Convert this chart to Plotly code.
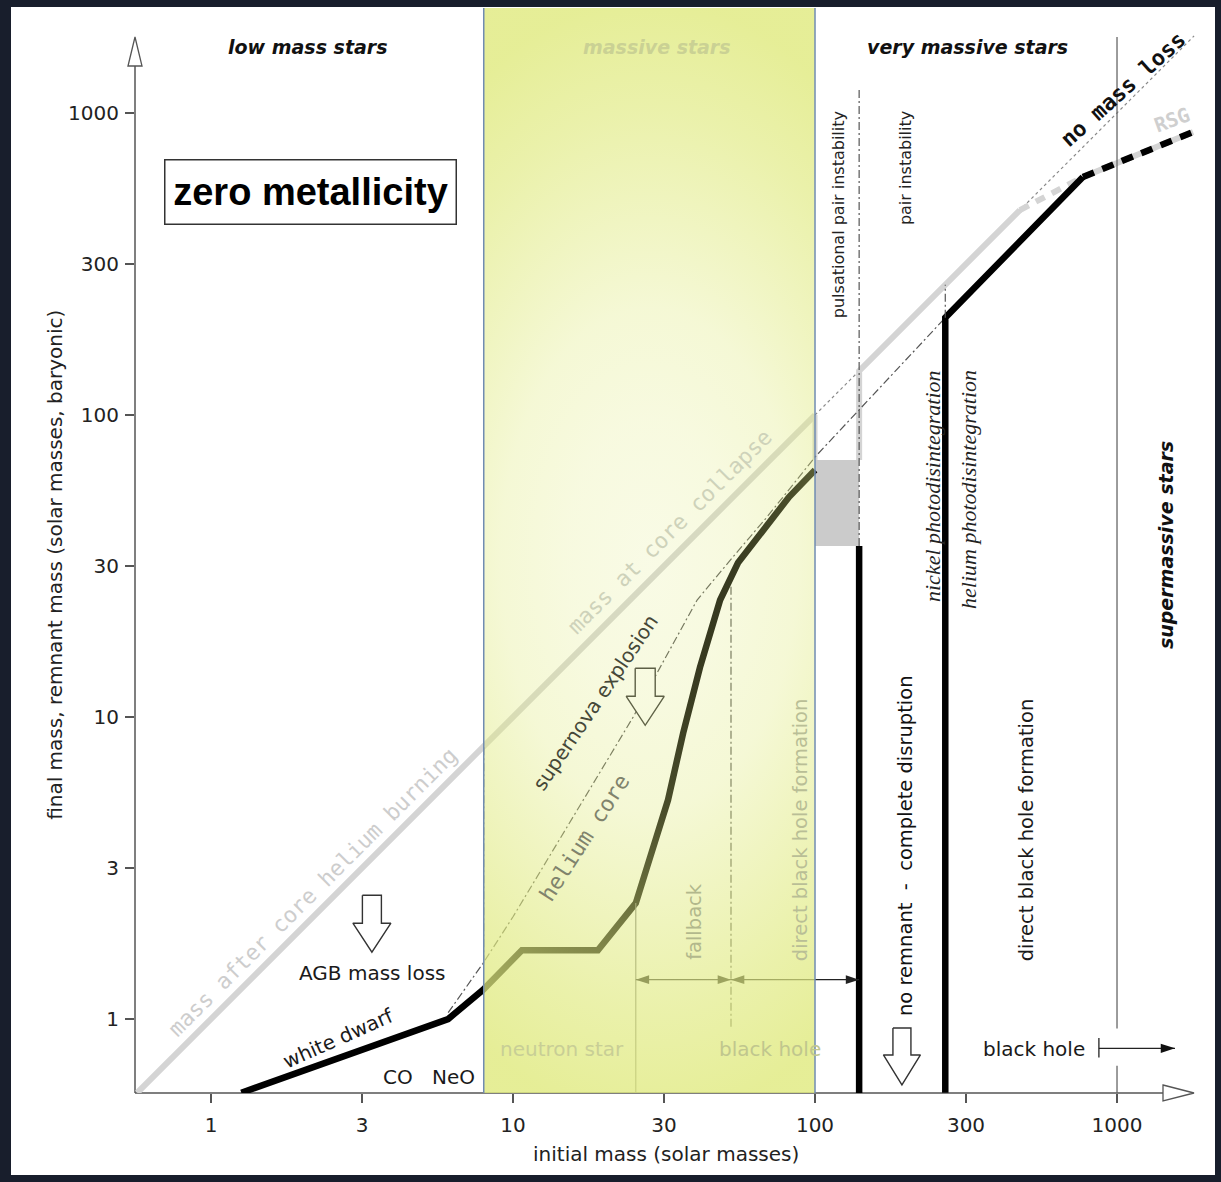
import base64
import numpy as np
import plotly.graph_objects as go

# ---------------- data (all masses in solar masses) ----------------
# remnant (baryonic) mass versus initial mass: white dwarfs, neutron stars, fallback black holes
remnant_init = [1.26, 6.1, 7.96, 10.7, 19.1, 25.5, 27.8, 32.6, 36.6, 41.6, 48.5, 55.6, 82.0, 100.0]
remnant_final = [0.57, 1.0, 1.25, 1.69, 1.69, 2.42, 3.19, 5.31, 8.85, 14.6, 24.4, 32.4, 53.5, 65.7]

# black holes above the pair-instability gap
bh_init = [270, 270, 771]
bh_final = [0.57, 210, 614]
bh_ext_init = [771, 1786]          # uncertain continuation (dashed)
bh_ext_final = [614, 865]

# final stellar mass (no mass loss below the pair-instability regime)
final_low_init = [0.57, 100]
final_low_final = [0.57, 100]
final_ppi_init = [100, 100]        # drop caused by pulsational pair instability
final_ppi_final = [100, 71]
final_pi_init = [140, 140, 477]
final_pi_final = [71, 140, 477]
rsg_init = [477, 771]              # red supergiant branch
rsg_final = [477, 614]
rsg_ext_init = [771, 1786]
rsg_ext_final = [614, 865]

# no mass loss reference (final = initial)
nml_init = [100, 1800]
nml_final = [100, 1800]

# helium core mass
he_init = [6.1, 7.96, 10.0, 25.0, 30.7, 40.7, 53.5, 69.3, 100.0, 270.0]
he_final = [1.05, 1.53, 2.18, 10.0, 14.6, 24.4, 33.9, 45.9, 72.6, 210.0]

# pulsational pair-instability band
ppi_band_init = [100, 140]
ppi_band_final = [36.8, 71.0]

# regime boundaries (initial mass)
m_massive = 8.0
m_fallback = 25.5
m_direct_bh = 52.7
m_vms = 100.0
m_pisn = 140.0
m_pisn_top = 270.0
m_supermassive = 1000.0
fallback_arrow_level = 1.35

# ticks sit at whole and half decades
tick_vals = [1, 10 ** 0.5, 10, 10 ** 1.5, 100, 10 ** 2.5, 1000]
tick_text = ["1", "3", "10", "30", "100", "300", "1000"]

# ---------------- layout geometry ----------------
W, H = 1221, 1182
ML, MR, MT, MB = 135, 21, 8, 89
PW, PH = W - ML - MR, H - MT - MB
XR = [-0.2517, 3.2748]
YR = [-0.245, 3.3477]
PXD = PW / (XR[1] - XR[0])          # pixels per decade
YBOT = 10 ** YR[0]

SANS = "DejaVu Sans"
MONO = "DejaVu Sans Mono"
SERIF = "Liberation Serif"
ARIAL = "Liberation Sans"


def xpp(px):
    return (px - ML) / PW


def ypp(py):
    return (MT + PH - py) / PH


def xp_data(v):
    return (np.log10(v) - XR[0]) / (XR[1] - XR[0])


fig = go.Figure()


def line(x, y, color, width, dash=None):
    fig.add_trace(go.Scatter(x=x, y=y, mode="lines", hoverinfo="skip", showlegend=False,
                             line=dict(color=color, width=width, dash=dash)))


def arrowheads(x, y, angles, color, size=14):
    fig.add_trace(go.Scatter(x=x, y=y, mode="markers", hoverinfo="skip", showlegend=False,
                             marker=dict(symbol="arrow", size=size, angle=angles, color=color,
                                         line=dict(width=0))))


def block_arrow(xc, ytop, hw=9.5, head=19, shaft=28, tip=57):
    pts = [(-hw, 0), (hw, 0), (hw, shaft), (head, shaft), (0, tip), (-head, shaft), (-hw, shaft), (-hw, 0)]
    xs = [xc * 10 ** (dx / PXD) for dx, dy in pts]
    ys = [ytop * 10 ** (-dy / PXD) for dx, dy in pts]
    fig.add_trace(go.Scatter(x=xs, y=ys, mode="lines", fill="toself", fillcolor="white",
                             line=dict(color="#333333", width=1.4), hoverinfo="skip", showlegend=False))


GRAY = "#d4d4d4"
DASHDOT = "8px,3px,2px,3px"

# no-mass-loss reference line
line(nml_init, nml_final, "#8a8a8a", 1.2, "dot")
# pulsational pair-instability remnant band
fig.add_trace(go.Scatter(
    x=[ppi_band_init[0], ppi_band_init[1], ppi_band_init[1], ppi_band_init[0], ppi_band_init[0]],
    y=[ppi_band_final[0], ppi_band_final[0], ppi_band_final[1], ppi_band_final[1], ppi_band_final[0]],
    mode="lines", fill="toself", fillcolor="#cbcbcb", line=dict(width=0),
    hoverinfo="skip", showlegend=False))
# final mass of the star
line(final_low_init, final_low_final, GRAY, 6)
line(final_ppi_init, final_ppi_final, GRAY, 5)
line(final_pi_init, final_pi_final, GRAY, 6)
line(rsg_init, rsg_final, GRAY, 6, "10px,8px")
line(rsg_ext_init, rsg_ext_final, GRAY, 6)
# helium core
line(he_init, he_final, "#555555", 1.2, DASHDOT)
# remnant masses
line(remnant_init, remnant_final, "black", 6.5)
line([m_pisn, m_pisn], [ppi_band_final[0], YBOT], "black", 6.5)
line(bh_init, bh_final, "black", 6.5)
line(bh_ext_init, bh_ext_final, "black", 6.5, "12px,9px")

# regime boundaries
line([m_massive, m_massive], [1.53, 8.0], "#555555", 1.2, DASHDOT)
line([m_direct_bh, m_direct_bh], [27.0, 0.93], "#555555", 1.2, DASHDOT)
line([m_pisn, m_pisn], [ppi_band_final[0], 1192], "#555555", 1.2, DASHDOT)
line([m_pisn_top, m_pisn_top], [210, 270], "#555555", 1.2, DASHDOT)
line([m_fallback, m_fallback], [YBOT, 2.42], "#777777", 1.1)
line([m_supermassive, m_supermassive, None, m_supermassive, m_supermassive],
     [1786, 0.93, None, 0.70, YBOT], "#666666", 1.3)

# fallback / direct black hole ranges
line([m_fallback, m_direct_bh], [fallback_arrow_level] * 2, "#333333", 1.2)
line([m_direct_bh, m_pisn], [fallback_arrow_level] * 2, "#222222", 1.2)
arrowheads([m_fallback, m_direct_bh, m_direct_bh, m_pisn], [fallback_arrow_level] * 4,
           [-90, 90, -90, 90], "#222222")

# black hole beyond the supermassive limit
line([871, 1556], [0.80, 0.80], "#222222", 1.3)
line([871, 871], [0.745, 0.865], "#222222", 1.3)
arrowheads([1556], [0.80], [90], "#111111", 15)

# block arrows
block_arrow(3.41, 2.57)
block_arrow(27.4, 14.5, hw=10)
block_arrow(194, 0.934, hw=9, head=18.5, shaft=27, tip=57)

# ---------------- highlighted "massive stars" panel (radial gradient) ----------------
panel_w = (np.log10(m_vms) - np.log10(m_massive)) * PXD
stops = [(0.0, 0.2), (0.25, 0.25), (0.45, 0.33), (0.62, 0.49), (0.8, 0.66), (1.0, 0.82)]
stop_xml = "".join(
    f'<stop offset="{o}" stop-color="rgb(224,234,128)" stop-opacity="{a}"/>' for o, a in stops)
cx, cy, r = panel_w / 2, 552, 560
svg = (f'<svg xmlns="http://www.w3.org/2000/svg" width="{panel_w:.0f}" height="{PH}" '
       f'viewBox="0 0 {panel_w:.1f} {PH}" preserveAspectRatio="none"><defs>'
       f'<radialGradient id="g" gradientUnits="userSpaceOnUse" cx="{cx:.1f}" cy="{cy}" r="{r}" '
       f'gradientTransform="translate({cx:.1f} {cy}) scale(0.59 1) translate({-cx:.1f} {-cy})">'
       f'{stop_xml}</radialGradient></defs>'
       f'<rect x="0" y="0" width="{panel_w:.1f}" height="{PH}" fill="url(#g)"/></svg>')
src = "data:image/svg+xml;base64," + base64.b64encode(svg.encode()).decode()
fig.add_layout_image(dict(source=src, xref="x", yref="paper",
                          x=np.log10(m_massive), y=1,
                          sizex=np.log10(m_vms) - np.log10(m_massive), sizey=1,
                          xanchor="left", yanchor="top", sizing="stretch", layer="above"))

# ---------------- shapes (frame, axes, panel border) ----------------
shapes = [
    dict(type="rect", xref="paper", yref="paper", x0=xpp(11), x1=xpp(1215), y0=ypp(1175), y1=ypp(7),
         fillcolor="white", line=dict(width=0), layer="below"),
    dict(type="line", xref="paper", yref="paper", x0=0, x1=xpp(1164), y0=0, y1=0,
         line=dict(color="#555555", width=1.5), layer="below"),
    dict(type="line", xref="paper", yref="paper", x0=0, x1=0, y0=0, y1=ypp(66),
         line=dict(color="#555555", width=1.5), layer="below"),
    dict(type="path", xref="paper", yref="paper",
         path=f"M {xpp(1163)},{ypp(1085)} L {xpp(1194)},{ypp(1093)} L {xpp(1163)},{ypp(1101)} Z",
         fillcolor="white", line=dict(color="#555555", width=1.3), layer="above"),
    dict(type="path", xref="paper", yref="paper",
         path=f"M {xpp(128)},{ypp(66)} L {xpp(135)},{ypp(37)} L {xpp(142)},{ypp(66)} Z",
         fillcolor="white", line=dict(color="#555555", width=1.3), layer="above"),
]
for m in (m_massive, m_vms):
    shapes.append(dict(type="line", xref="paper", yref="paper", x0=xp_data(m), x1=xp_data(m),
                       y0=0, y1=1, line=dict(color="rgb(112,140,178)", width=1.5), layer="above"))
fig.update_layout(shapes=shapes)


# ---------------- labels ----------------
def label(text, x, y, size, color="#1a1a1a", angle=0, family=SANS, **kw):
    fig.add_annotation(x=np.log10(x), y=np.log10(y), xref="x", yref="y", text=text,
                       showarrow=False, textangle=angle, xanchor="center", yanchor="middle",
                       font=dict(family=family, size=size, color=color), **kw)


label("<b><i>low mass stars</i></b>", 2.08, 1654, 19, "#111111")
label("<b><i>massive stars</i></b>", 30.0, 1654, 19, "rgb(202,209,148)")
label("<b><i>very massive stars</i></b>", 321, 1654, 19, "#111111")
label("<b><i>supermassive stars</i></b>", 1453, 37.1, 19, "#111111", -90)
label("<b>zero metallicity</b>", 2.14, 547, 38, "#000000", family=ARIAL,
      bgcolor="white", bordercolor="#333333", borderwidth=1.5, borderpad=4, width=282, height=55)

label("pulsational pair instability", 119.2, 459, 16, "#222222", -90)
label("pair instability", 198.6, 657, 16, "#222222", -90)
label("<i>nickel photodisintegration</i>", 244, 58.2, 22, "#222222", -90, SERIF)
label("<i>helium photodisintegration</i>", 323.6, 56.5, 22, "#222222", -90, SERIF)

label("mass after core helium burning", 2.16, 2.63, 22, "#cdcdcd", -45, MONO)
label("mass at core collapse", 33.1, 41.0, 22, "rgb(206,210,186)", -45, MONO)
label("<b>no mass loss</b>", 1047, 1192, 22, "#111111", -42, MONO)
label("<b>RSG</b>", 1521, 948, 20, "#cfcfcf", -20, MONO)
label("supernova explosion", 18.8, 11.2, 20, "rgb(70,72,56)", -56)
label("helium core", 17.3, 3.98, 22, "rgb(128,131,108)", -57, MONO)

label("white dwarf", 2.65, 0.865, 20, "#1a1a1a", -24)
label("CO", 4.16, 0.642, 20, "#1a1a1a")
label("NeO", 6.33, 0.642, 20, "#1a1a1a")
label("AGB mass loss", 3.41, 1.42, 20, "#1a1a1a")
label("neutron star", 14.5, 0.796, 20, "rgb(200,206,150)")
label("black hole", 71, 0.796, 20, "rgb(192,198,142)")
label("fallback", 40.1, 2.10, 19.5, "rgb(178,184,140)", -90)
label("direct black hole formation", 89.2, 4.22, 19.5, "rgb(185,190,150)", -90)
label("no remnant\u00a0\u00a0-\u00a0\u00a0complete disruption", 198.6, 3.74, 19.5, "#111111", -90)
label("direct black hole formation", 500, 4.22, 19.5, "#1a1a1a", -90)
label("black hole", 531, 0.796, 20, "#1a1a1a")

# axis titles
fig.add_annotation(x=np.log10(32.1), y=ypp(1154), xref="x", yref="paper", showarrow=False,
                   xanchor="center", yanchor="middle",
                   text="initial mass (solar masses)", font=dict(family=SANS, size=20, color="#222222"))
fig.add_annotation(x=xpp(55), y=np.log10(31.9), xref="paper", yref="y", showarrow=False, textangle=-90,
                   xanchor="center", yanchor="middle",
                   text="final mass, remnant mass (solar masses, baryonic)",
                   font=dict(family=SANS, size=20, color="#222222"))

axis_common = dict(type="log", showgrid=False, zeroline=False, showline=False, ticks="outside",
                   ticklen=9, tickwidth=1.5, tickcolor="#555555", tickvals=tick_vals, ticktext=tick_text,
                   tickfont=dict(family=SANS, size=20, color="#222222"))
fig.update_xaxes(range=XR, ticklabelstandoff=5, **axis_common)
fig.update_yaxes(range=YR, ticklabelstandoff=2, **axis_common)

fig.update_layout(width=W, height=H, autosize=False, showlegend=False,
                  margin=dict(l=ML, r=MR, t=MT, b=MB, pad=0),
                  paper_bgcolor="#181e2c", plot_bgcolor="white")

fig.write_html("out.html")
